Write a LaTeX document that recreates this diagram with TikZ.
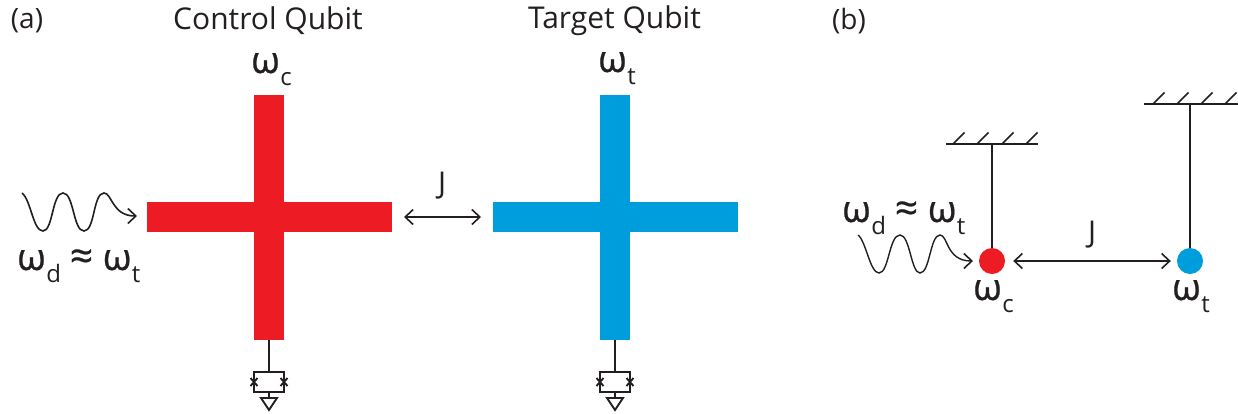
\documentclass[tikz,border=0pt]{standalone}
\usepackage{fontspec}
\setmainfont{Open Sans}
\newfontfamily\omgfont[FakeBold=0.6]{Open Sans}
\usetikzlibrary{arrows.meta}
\definecolor{qred}{RGB}{237,28,36}
\definecolor{qblue}{RGB}{0,157,220}
\definecolor{ink}{RGB}{35,31,32}
\newcommand{\omg}[1]{{\omgfont\fontsize{37}{37}\selectfont ω}\hspace{0.5pt}\raisebox{-12.5pt}{\fontsize{24}{24}\selectfont #1}}
\newcommand{\detune}{\omg{d}\hspace{9pt}{\omgfont\fontsize{40}{40}\selectfont ≈}\hspace{10pt}\omg{t}}
\tikzset{
  lbl/.style={inner sep=0pt,text=ink,font=\fontsize{30}{30}\selectfont},
  sym/.style={inner sep=0pt,text=ink,anchor=base west},
  wire/.style={draw=ink,line width=1.9pt},
  thin wire/.style={draw=ink,line width=1.5pt},
  arr/.style={draw=ink,line width=1.6pt,-{Straight Barb[length=8pt,width=15pt,line width=1.6pt]}},
  darr/.style={draw=ink,line width=1.6pt,{Straight Barb[length=8pt,width=15pt,line width=1.6pt]}-{Straight Barb[length=8pt,width=15pt,line width=1.6pt]}},
}
\begin{document}
\begin{tikzpicture}[x=1pt,y=-1pt]
\useasboundingbox (0,0) rectangle (1238,413);
% labels
\node[lbl,font=\fontsize{28}{28}\selectfont] (la) at (27,21) {(a)};
\node[lbl,font=\fontsize{28}{28}\selectfont] (lb) at (849,21) {(b)};
\node[lbl] (tc) at (268,21) {Control Qubit};
\node[lbl] (tt) at (614.5,21) {Target Qubit};
\node[sym] (wc) at (251,73) {\omg{c}};
\node[sym] (wt) at (598,72) {\omg{t}};
% crosses
\fill[qred] (147,202) rectangle (392,232);
\fill[qred] (254,95) rectangle (284,340);
\fill[qblue] (493,202) rectangle (738,232);
\fill[qblue] (600,95) rectangle (630,340);
\coordinate (cr) at (392,217);
\coordinate (tl) at (493,217);
\path (cr) ++(12,0) coordinate (ja);
\path (tl) ++(-12,0) coordinate (jb);
\draw[darr] (ja) -- (jb);
\node[lbl] (ja lbl) at (442,186) {J};
% SQUIDs
\foreach \n/\x in {c/269,t/615}{
  \coordinate (s\n top) at (\x,340);
  \coordinate (s\n box) at (\x,372);
  \draw[wire] (s\n top) -- (s\n box);
  \draw[wire] (\x-15,372) rectangle (\x+15,392);
  \draw[wire] (\x-18.5,378) -- (\x-11.5,386) (\x-18.5,386) -- (\x-11.5,378);
  \draw[wire] (\x+11.5,378) -- (\x+18.5,386) (\x+11.5,386) -- (\x+18.5,378);
  \draw[wire] (\x,392) -- (\x,398);
  \draw[wire,line join=miter] (\x-8,398) -- (\x+8,398) -- (\x,410) -- cycle;
}
% drive (a)
\coordinate (wa) at (22,193);
\coordinate (wat) at (137,216);
\draw[arr] (wa) .. controls (31,200) and (33,231) .. (43,231)
  .. controls (53,231) and (52,193) .. (63,193)
  .. controls (74,193) and (73,231) .. (84,231)
  .. controls (95,231) and (93,193) .. (104,193)
  .. controls (112,193) and (112,216) .. (wat);
\node[sym] (da) at (17,270) {\detune};
% (b)
\node[circle,fill=qred,minimum size=26pt,inner sep=0pt] (qc) at (992,261) {};
\node[circle,fill=qblue,minimum size=26pt,inner sep=0pt] (qt) at (1190,261) {};
\coordinate (w1) at (992,144);
\coordinate (w2) at (1190,104);
\draw[thin wire] (w1) -- (qc);
\draw[thin wire] (w2) -- (qt);
\draw[wire] (946,144) -- (1038,144);
\foreach \x in {953,977,1002,1026}{\draw[thin wire] (\x,144) -- ++(11.5,-11.5);}
\draw[wire] (1144,104) -- (1238,104);
\foreach \x in {1153,1177,1201,1225}{\draw[thin wire] (\x,104) -- ++(11.5,-11.5);}
\draw[darr,shorten <=8pt,shorten >=6pt] (qc) -- (qt);
\node[lbl] (jb lbl) at (1092,235) {J};
\node[sym] (db) at (842,222) {\detune};
\node[sym] (wc2) at (973,300) {\omg{c}};
\node[sym] (wt2) at (1172,300) {\omg{t}};
\coordinate (wb) at (858,235);
\coordinate (wbt) at (973,261);
\draw[arr,line width=1.4pt] (wb) .. controls (866,241) and (870,273) .. (879,273)
  .. controls (889,273) and (889,235) .. (900,235)
  .. controls (910,235) and (911,273) .. (920,273)
  .. controls (930,273) and (930,235) .. (940,235)
  .. controls (948,235) and (946,261) .. (wbt);
\end{tikzpicture}
\end{document}
